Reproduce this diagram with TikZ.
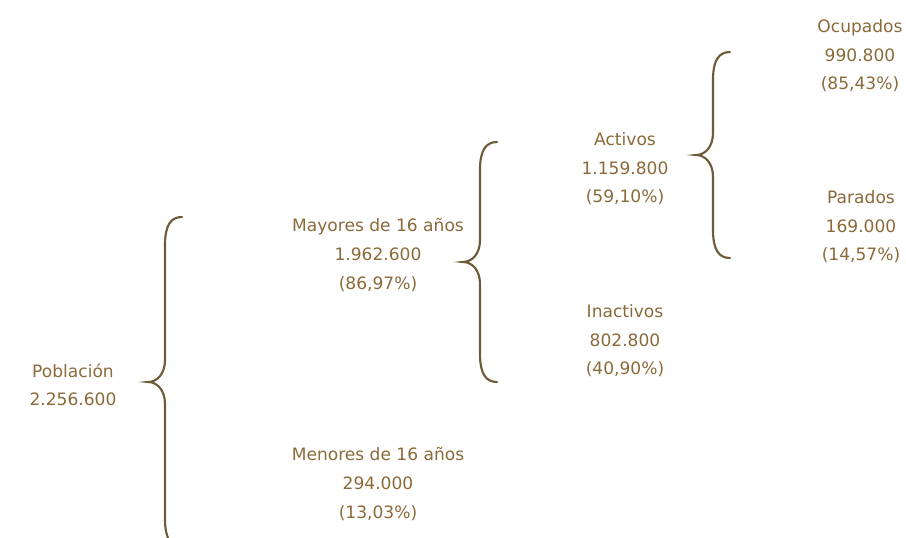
\documentclass[tikz,border=0pt]{standalone}
\usepackage{fontspec}
\setmainfont{DejaVu Sans}
\usepackage{xcolor}
\usepackage{tikz}
\definecolor{texto}{HTML}{8B6A3A}
\definecolor{trazo}{HTML}{6E5C38}
\tikzset{
    dato/.style={
        align=center,
        text=texto,
        inner sep=0pt,
        font=\fontsize{12.8}{21.4}\selectfont
    },
    corchete/.style={
        draw=trazo,
        line width=1.6pt,
        line cap=round
    }
}
% llave abierta: punta en #1, media altura #2
\newcommand{\llave}[2]{%
    \draw[corchete, shift={(#1)}] (34,-#2) .. controls (23,-#2) and (17,-#2+8) .. (17,-#2+28)
        -- (17,-22) .. controls (17,-8) and (9,0) .. (0,0)
        .. controls (9,0) and (17,8) .. (17,22)
        -- (17,#2-28) .. controls (17,#2-8) and (23,#2) .. (34,#2);}

\begin{document}
\begin{tikzpicture}[x=0.75pt, y=-0.75pt]
        \clip (0,0) rectangle (906,538);
        \fill[white] (0,0) rectangle (906,538);

        % puntas de las llaves
        \coordinate (llavePob) at (148,382);
        \coordinate (llaveMay) at (463,262);
        \coordinate (llaveAct) at (696,155);

        \node[dato] (poblacion) at (73,385) {Población\\2.256.600};
        \node[dato] (mayores) at (378,255) {Mayores de 16 años\\1.962.600\\(86,97\%)};
        \node[dato] (menores) at (378,484) {Menores de 16 años\\294.000\\(13,03\%)};
        \node[dato] (activos) at (625,169) {Activos\\1.159.800\\(59,10\%)};
        \node[dato] (inactivos) at (625,341) {Inactivos\\802.800\\(40,90\%)};
        \node[dato] (ocupados) at (860,56) {Ocupados\\990.800\\(85,43\%)};
        \node[dato] (parados) at (861,227) {Parados\\169.000\\(14,57\%)};

        \llave{llavePob}{165}
        \llave{llaveMay}{120}
        \llave{llaveAct}{103}
\end{tikzpicture}
\end{document}
